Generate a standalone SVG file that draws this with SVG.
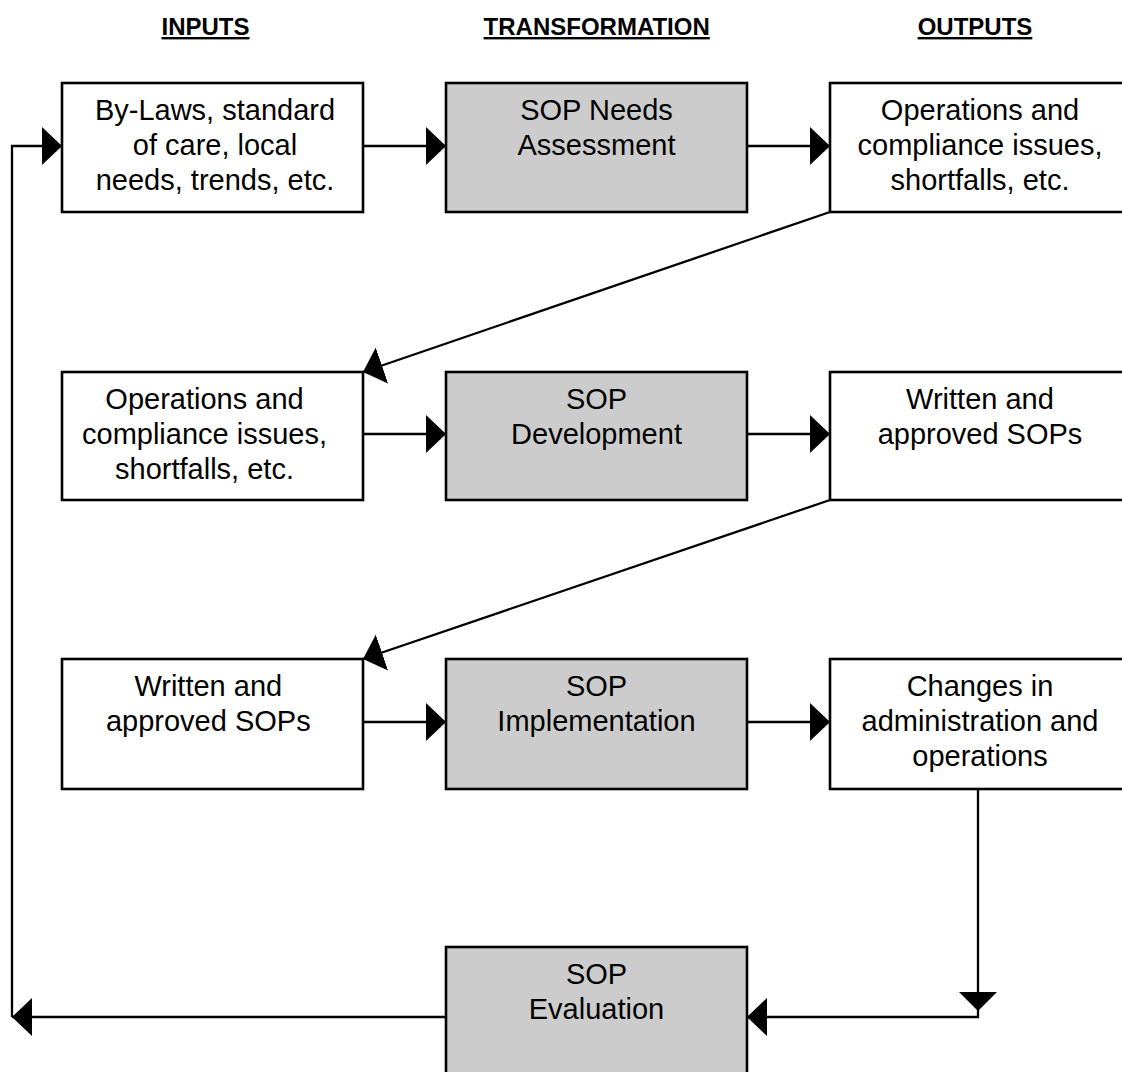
<svg xmlns="http://www.w3.org/2000/svg" width="1122" height="1072" viewBox="0 0 1122 1072">
<style>
.box{fill:#FFFFFF;stroke:#000000;stroke-width:2.6}
.grey{fill:#CCCCCC;stroke:#000000;stroke-width:2.6}
.t{font-family:"Liberation Sans",Arial,sans-serif;font-size:29px;fill:#000000;text-anchor:middle}
.h{font-family:"Liberation Sans",Arial,sans-serif;font-size:24px;font-weight:bold;fill:#000000;text-anchor:middle;text-decoration:underline}
.c{fill:none;stroke:#000000;stroke-width:2.3}
</style>
<defs>
<marker id="ah" markerUnits="userSpaceOnUse" viewBox="0 0 20 38" refX="20" refY="19" markerWidth="20" markerHeight="38" orient="auto">
<path d="M0,0 L20,19 L0,38 z" fill="#000000"/>
</marker>
</defs>
<rect width="1122" height="1072" fill="#FFFFFF"/>
<g id="headers">
<text class="h" x="205.5" y="35">INPUTS</text>
<text class="h" x="596.7" y="35">TRANSFORMATION</text>
<text class="h" x="975" y="35">OUTPUTS</text>
</g>
<g id="connectors">
<path class="c" d="M363,146 H446" marker-end="url(#ah)"/>
<path class="c" d="M747,146 H830" marker-end="url(#ah)"/>
<path class="c" d="M830,212 L363,372" marker-end="url(#ah)"/>
<path class="c" d="M363,434 H446" marker-end="url(#ah)"/>
<path class="c" d="M747,434 H830" marker-end="url(#ah)"/>
<path class="c" d="M830,500 L363,659" marker-end="url(#ah)"/>
<path class="c" d="M363,722 H446" marker-end="url(#ah)"/>
<path class="c" d="M747,722 H830" marker-end="url(#ah)"/>
<path class="c" d="M978,789 V1017 H747" marker-end="url(#ah)"/>
<polygon points="959,992 997,992 978,1011" fill="#000000"/>
<path class="c" d="M446,1017 H12" marker-end="url(#ah)"/>
<path class="c" d="M12,1017 V146 H62" marker-end="url(#ah)"/>
</g>
<g id="n-inputs1">
<rect class="box" x="62" y="83" width="301" height="129"/>
<text class="t" x="215"><tspan x="215" y="120.3">By-Laws, standard</tspan><tspan x="215" y="155">of care, local</tspan><tspan x="215" y="189.7">needs, trends, etc.</tspan></text>
</g>
<g id="n-needs">
<rect class="grey" x="446" y="83" width="301" height="129"/>
<text class="t" x="596.5"><tspan x="596.5" y="120.3">SOP Needs</tspan><tspan x="596.5" y="155">Assessment</tspan></text>
</g>
<g id="n-outputs1">
<rect class="box" x="830" y="83" width="300" height="129"/>
<text class="t" x="980"><tspan x="980" y="120.3">Operations and</tspan><tspan x="980" y="155">compliance issues,</tspan><tspan x="980" y="189.7">shortfalls, etc.</tspan></text>
</g>
<g id="n-inputs2">
<rect class="box" x="62" y="372" width="301" height="128"/>
<text class="t" x="204.5"><tspan x="204.5" y="409.3">Operations and</tspan><tspan x="204.5" y="444">compliance issues,</tspan><tspan x="204.5" y="478.7">shortfalls, etc.</tspan></text>
</g>
<g id="n-development">
<rect class="grey" x="446" y="372" width="301" height="128"/>
<text class="t" x="596.5"><tspan x="596.5" y="409.3">SOP</tspan><tspan x="596.5" y="444">Development</tspan></text>
</g>
<g id="n-outputs2">
<rect class="box" x="830" y="372" width="300" height="128"/>
<text class="t" x="980"><tspan x="980" y="409.3">Written and</tspan><tspan x="980" y="444">approved SOPs</tspan></text>
</g>
<g id="n-inputs3">
<rect class="box" x="62" y="659" width="301" height="130"/>
<text class="t" x="208.3"><tspan x="208.3" y="696.3">Written and</tspan><tspan x="208.3" y="731">approved SOPs</tspan></text>
</g>
<g id="n-implementation">
<rect class="grey" x="446" y="659" width="301" height="130"/>
<text class="t" x="596.5"><tspan x="596.5" y="696.3">SOP</tspan><tspan x="596.5" y="731">Implementation</tspan></text>
</g>
<g id="n-outputs3">
<rect class="box" x="830" y="659" width="300" height="130"/>
<text class="t" x="980"><tspan x="980" y="696.3">Changes in</tspan><tspan x="980" y="731">administration and</tspan><tspan x="980" y="765.7">operations</tspan></text>
</g>
<g id="n-evaluation">
<rect class="grey" x="446" y="947" width="301" height="135"/>
<text class="t" x="596.5"><tspan x="596.5" y="984.3">SOP</tspan><tspan x="596.5" y="1019">Evaluation</tspan></text>
</g>
</svg>
